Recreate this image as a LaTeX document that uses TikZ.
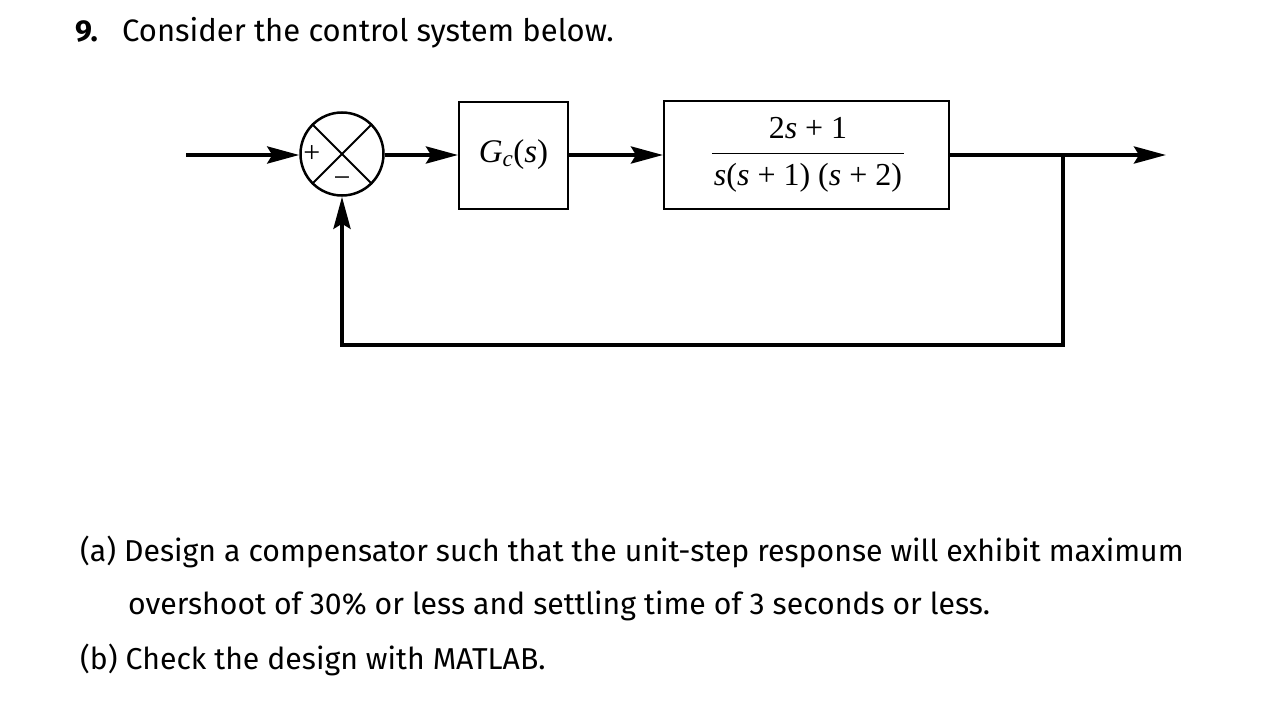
\documentclass[tikz,border=0pt]{standalone}
\usepackage{fontspec}
\setmainfont{Liberation Serif}
\setsansfont{Fira Sans}
\usetikzlibrary{arrows.meta,positioning}

\tikzset{
  blk/.style={draw,line width=2pt,minimum width=109pt,minimum height=107pt,
    font=\fontsize{33}{38}\selectfont},
  sig/.style={line width=4pt,-{Stealth[length=32pt,width=17pt,inset=5pt]}},
  para/.style={anchor=base west,inner sep=0pt,
    font=\sffamily\fontsize{30.2}{36}\selectfont},
  sgn/.style={inner sep=0pt,font=\fontsize{30}{30}\selectfont},
}

\begin{document}
\begin{tikzpicture}[x=1pt,y=-1pt]
  \useasboundingbox[fill=white] (0,0) rectangle (1262,728);
  % heading
  \node[para] (qnum) at (75,41) {\bfseries 9.};
  \node[para,font=\sffamily\fontsize{31}{36}\selectfont] (title) at (122,41) {Consider the control system below.};
  % summing junction
  \node[draw,circle,line width=2.5pt,minimum size=83pt,inner sep=0pt] (sum) at (342,154) {};
  \draw[line width=2pt] (sum.north west)--(sum.south east) (sum.north east)--(sum.south west);
  \node[sgn,right=4pt of sum.west] (plus) {+};
  \node[sgn,above=9pt of sum.south] (minus) {−};
  % blocks
  \node[blk] (gc) at (513.5,155) {\textit{G\textsubscript{c}}(\textit{s})};
  \node[blk,minimum width=285pt,minimum height=108pt] (plant) at (806.5,155) {};
  \node[inner sep=0pt,font=\fontsize{32}{38}\selectfont,anchor=base] (num) at (808,138) {2\textit{s} + 1};
  \node[inner sep=0pt,font=\fontsize{32}{38}\selectfont,anchor=base] (den) at (808,185) {\textit{s}(\textit{s} + 1) (\textit{s} + 2)};
  \draw[line width=1.5pt] ([xshift=-2pt,yshift=9pt]den.north west) -- ([xshift=2pt,yshift=9pt]den.north east);
  % signal paths
  \coordinate (in) at (186,155);
  \coordinate (out) at (1166,155);
  \coordinate (branch) at (1063,155);
  \coordinate (fb) at (342,345);
  \draw[sig] (in) -- (in -| sum.west);
  \draw[sig] (sum.east |- gc.west) -- (gc.west);
  \draw[sig] (gc.east) -- (plant.west);
  \draw[sig] (plant.east) -- (out);
  \draw[sig] (branch) |- (fb) -- (sum.south);
  % questions
  \node[para] (parta) at (80,561) {(a) Design a compensator such that the unit-step response will exhibit maximum};
  \node[para] (partab) at (128,614) {overshoot of 30\% or less and settling time of 3 seconds or less.};
  \node[para] (partb) at (80,669) {(b) Check the design with MATLAB.};
\end{tikzpicture}
\end{document}
